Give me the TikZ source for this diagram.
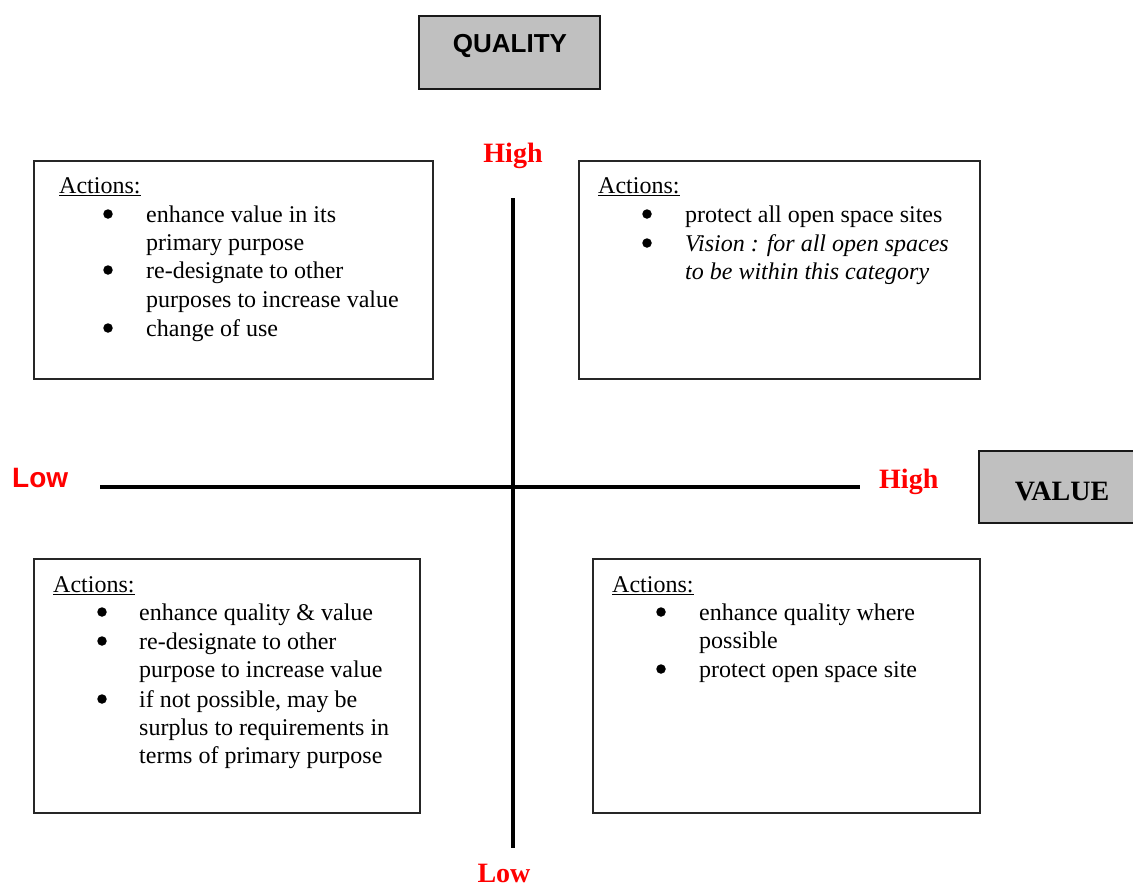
\documentclass[tikz,border=0pt]{standalone}
\usepackage{fontspec}
\setmainfont{Liberation Serif}
\newfontfamily\arialf{Liberation Sans}
\definecolor{boxgray}{HTML}{C0C0C0}
\definecolor{axred}{HTML}{FF0000}
\tikzset{
  actbox/.style={draw=black!85, line width=1.6pt},
  titlebox/.style={draw=black!90, line width=2.2pt, fill=boxgray},
  axisline/.style={line width=3.6pt, black},
  body/.style={inner sep=0pt, anchor=base west, font=\fontsize{24}{28}\selectfont},
  bul/.style={circle, fill=black, inner sep=0pt, minimum size=9.5pt},
  redserif/.style={inner sep=0pt, anchor=base, text=axred, font=\fontsize{28}{32}\selectfont\bfseries},
}
\begin{document}
\begin{tikzpicture}[x=1pt,y=-1pt]
\useasboundingbox (0,0) rectangle (1133,887);
% title boxes
\draw[titlebox] (419,16) rectangle (600,89);
\node[inner sep=0pt, anchor=base, font=\arialf\bfseries\fontsize{26}{30}\selectfont] (qual) at (510,52) {QUALITY};
\draw[titlebox] (979,451) rectangle (1140,523);
\node[inner sep=0pt, anchor=base, font=\bfseries\fontsize{28}{32}\selectfont] (val) at (1062,500) {VALUE};
% axes
\coordinate (vt) at (513,198);
\coordinate (vb) at (513,848);
\coordinate (hl) at (100,487);
\coordinate (hr) at (860,487);
\draw[axisline] (vt) -- (vb);
\draw[axisline] (hl) -- (hr);
\node[redserif] (hightop) at (513,162) {High};
\node[redserif] (lowbot) at (504,882) {Low};
\node[redserif, anchor=base west] (highright) at (879,488) {High};
\node[inner sep=0pt, anchor=base west, text=axred, font=\arialf\bfseries\fontsize{28}{32}\selectfont] (lowleft) at (12,487) {Low};
% boxes
\draw[actbox] (34,161) rectangle (433,379);
\draw[actbox] (579,161) rectangle (980,379);
\draw[actbox] (34,559) rectangle (420,813);
\draw[actbox] (593,559) rectangle (980,813);
% top-left text
\node[body] (tla) at (59,193) {\underline{Actions:}};
\node[bul] (tlb1) at (108,214) {};
\node[body] (tl1) at (146,222) {enhance value in its};
\node[body] (tl2) at (146,250) {primary purpose};
\node[bul] (tlb2) at (108,270) {};
\node[body] (tl3) at (146,278) {re-designate to other};
\node[body] (tl4) at (146,307) {purposes to increase value};
\node[bul] (tlb3) at (108,328) {};
\node[body] (tl5) at (146,336) {change of use};
% top-right text
\node[body] (tra) at (598,193) {\underline{Actions:}};
\node[bul] (trb1) at (647,214) {};
\node[body] (tr1) at (685,222) {protect all open space sites};
\node[bul] (trb2) at (647,243) {};
\node[body] (tr2) at (685,251) {\itshape Vision : for all open spaces};
\node[body] (tr3) at (685,279) {\itshape to be within this category};
% bottom-left text
\node[body] (bla) at (53,592) {\underline{Actions:}};
\node[bul] (blb1) at (102,612) {};
\node[body] (bl1) at (139,620) {enhance quality \& value};
\node[bul] (blb2) at (102,641) {};
\node[body] (bl2) at (139,649) {re-designate to other};
\node[body] (bl3) at (139,677) {purpose to increase value};
\node[bul] (blb3) at (102,699) {};
\node[body] (bl4) at (139,707) {if not possible, may be};
\node[body] (bl5) at (139,735) {surplus to requirements in};
\node[body] (bl6) at (139,763) {terms of primary purpose};
% bottom-right text
\node[body] (bra) at (612,592) {\underline{Actions:}};
\node[bul] (brb1) at (661,612) {};
\node[body] (br1) at (699,620) {enhance quality where};
\node[body] (br2) at (699,648) {possible};
\node[bul] (brb2) at (661,669) {};
\node[body] (br3) at (699,677) {protect open space site};
\end{tikzpicture}
\end{document}
